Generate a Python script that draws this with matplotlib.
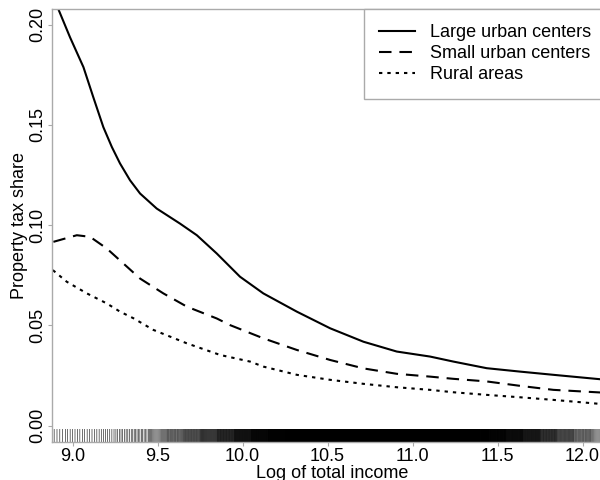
import numpy as np
import matplotlib
matplotlib.use("Agg")
import matplotlib.pyplot as plt

plt.rcParams['font.family'] = ['Liberation Sans', 'DejaVu Sans']

# curves (log income, property tax share)
large_x = [8.877, 8.916, 8.985, 9.064, 9.122, 9.181, 9.231, 9.279, 9.338, 9.397,
           9.495, 9.632, 9.731, 9.848, 9.985, 10.122, 10.319, 10.515, 10.711,
           10.907, 11.103, 11.240, 11.436, 11.632, 11.828, 12.103, 12.17]
large_y = [0.2150, 0.2078, 0.1937, 0.1788, 0.1638, 0.1489, 0.1390, 0.1308, 0.1224, 0.1158,
           0.1083, 0.1008, 0.0950, 0.0859, 0.0743, 0.0660, 0.0569, 0.0486, 0.0419,
           0.0370, 0.0345, 0.0320, 0.0287, 0.0270, 0.0254, 0.0232, 0.0228]

small_x = [8.887, 9.025, 9.103, 9.201, 9.299, 9.397, 9.534, 9.672, 9.848, 9.926,
           10.122, 10.319, 10.515, 10.711, 10.907, 11.103, 11.240, 11.436, 11.632,
           11.828, 12.103, 12.17]
small_y = [0.0917, 0.0950, 0.0942, 0.0884, 0.0809, 0.0734, 0.0660, 0.0594, 0.0535, 0.0502,
           0.0436, 0.0378, 0.0328, 0.0286, 0.0259, 0.0245, 0.0234, 0.0221, 0.0199,
           0.0179, 0.0166, 0.0162]

rural_x = [8.884, 8.966, 9.084, 9.201, 9.279, 9.358, 9.475, 9.672, 9.868, 10.044,
           10.122, 10.319, 10.515, 10.711, 10.907, 11.103, 11.240, 11.436, 11.632,
           11.828, 12.103, 12.17]
rural_y = [0.0776, 0.0718, 0.0660, 0.0610, 0.0569, 0.0536, 0.0478, 0.0411, 0.0353, 0.0320,
           0.0295, 0.0254, 0.0229, 0.0209, 0.0192, 0.0179, 0.0167, 0.0154, 0.0142,
           0.0129, 0.0109, 0.0105]

# rug: number of observations per 0.1 bin of log income
rug_start = [8.85, 8.95, 9.05, 9.15, 9.25, 9.35, 9.45, 9.55, 9.65, 9.75, 9.85,
             9.95, 10.05, 10.15, 10.25, 10.35, 10.45, 10.55, 10.65, 10.75, 10.85,
             10.95, 11.05, 11.15, 11.25, 11.35, 11.45, 11.55, 11.65, 11.75, 11.85,
             11.95, 12.05, 12.15]
rug_count = [6, 7, 7, 8, 10, 12, 16, 22, 28, 35, 45,
             60, 80, 100, 120, 140, 150, 150, 150, 150, 150,
             150, 150, 140, 130, 110, 90, 70, 55, 40, 30,
             22, 16, 12]

labels = ['Large urban centers', 'Small urban centers', 'Rural areas']

grey = '#aaaaaa'

fig = plt.figure(figsize=(6, 4.8), dpi=100)
ax = fig.add_axes([52 / 600, 38 / 480, 560 / 600, 433 / 480])

# rug along bottom
rug_x = []
for s, n in zip(rug_start, rug_count):
    step = 0.1 / n
    rug_x.extend(s + step * (np.arange(n) + 0.5))
ax.vlines(rug_x, 0, 0.03, transform=ax.get_xaxis_transform(), color='black',
          lw=0.4, snap=False)

ax.plot(large_x, large_y, color='black', lw=1.5, label=labels[0])
ax.plot(small_x, small_y, color='black', lw=1.5, dashes=(6, 3.8), label=labels[1])
ax.plot(rural_x, rural_y, color='black', lw=1.5, dashes=(1.6, 2.4), label=labels[2])

ax.set_xlim(8.879, 12.173)
ax.set_ylim(-0.0081, 0.2078)

ax.set_xticks([9.0, 9.5, 10.0, 10.5, 11.0, 11.5, 12.0])
ax.set_xticklabels(['9.0', '9.5', '10.0', '10.5', '11.0', '11.5', '12.0'])
ax.set_yticks([0.0, 0.05, 0.10, 0.15, 0.20])
ax.set_yticklabels(['0.00', '0.05', '0.10', '0.15', '0.20'], rotation=90, va='center')

ax.tick_params(axis='both', labelsize=13, length=3, width=0.8, color=grey, pad=1)
for side in ['left', 'top', 'bottom']:
    ax.spines[side].set_color(grey)
    ax.spines[side].set_linewidth(1.0)
ax.spines['right'].set_visible(False)

ax.set_xlabel('Log of total income', fontsize=13, labelpad=0)
ax.set_ylabel('Property tax share', fontsize=13, labelpad=1)

leg = ax.legend(loc='upper left', bbox_to_anchor=((364 - 52) / 560, 1.0), borderaxespad=0,
                fontsize=13, handlelength=1.95, handletextpad=0.85, labelspacing=0.22,
                borderpad=0.85, fancybox=False, framealpha=1)
leg.get_frame().set_edgecolor(grey)
leg.get_frame().set_linewidth(1.0)

plt.savefig('out.png', dpi=100)
